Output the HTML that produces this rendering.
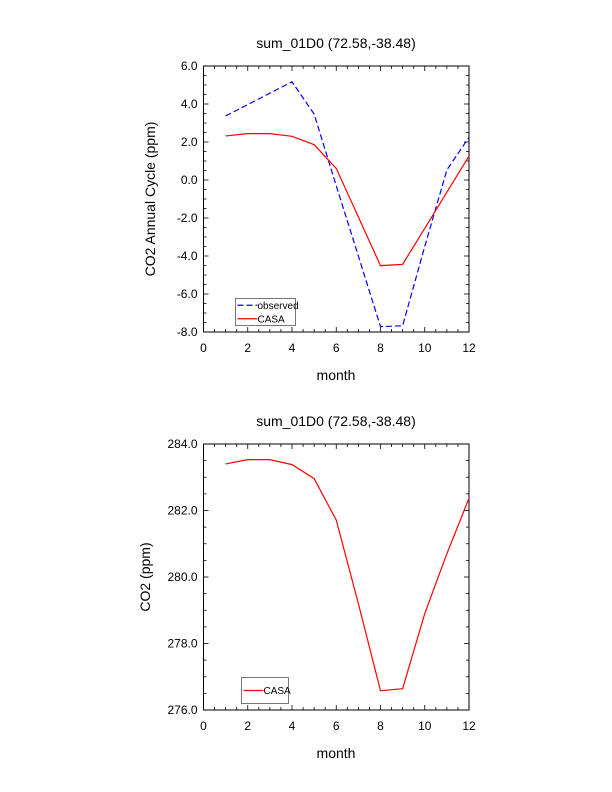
<!DOCTYPE html>
<html><head><meta charset="utf-8"><style>
body{margin:0;background:#fff;width:612px;height:792px;overflow:hidden}
svg{display:block;font-family:"Liberation Sans",Arial,sans-serif}
</style></head><body>
<svg id="s" width="612" height="792" xmlns="http://www.w3.org/2000/svg"></svg>
<script>
const months=[1,2,3,4,5,6,7,8,9,10,11,12];
const observed=[3.37,3.97,4.57,5.17,3.47,-0.3,-4.0,-7.72,-7.67,-3.5,0.53,2.25];
const casaCycle=[2.32,2.44,2.44,2.30,1.86,0.61,-1.95,-4.51,-4.44,-2.54,-0.64,1.26];
const casaCO2=[283.40,283.53,283.53,283.38,282.96,281.71,279.2,276.58,276.64,278.9,280.7,282.37];
const xTicks=[0,2,4,6,8,10,12];
const yTicksTop=[6.0,4.0,2.0,0.0,-2.0,-4.0,-6.0,-8.0];
const yTicksBot=[284.0,282.0,280.0,278.0,276.0];
const title="sum_01D0 (72.58,-38.48)";
const NS="http://www.w3.org/2000/svg";
const svg=document.getElementById('s');
function mk(tag,at,parent){const e=document.createElementNS(NS,tag);for(const k in at)e.setAttribute(k,at[k]);(parent||svg).appendChild(e);return e;}
function panel(o){
  const g=mk('g',{});
  
  
  const L=203.5,R=469,T=o.top,B=o.bot;
  const xs=v=>L+(v-0)/12*(R-L);
  const ys=v=>T+(o.ymax-v)/(o.ymax-o.ymin)*(B-T);
  const fr=mk('rect',{x:L,y:T,width:R-L,height:B-T,fill:'none',stroke:'#000','stroke-width':1},g);
  
  
  for(let v=0;v<=12.001;v+=0.5){const maj=Math.abs(v/2-Math.round(v/2))<1e-6;const l=maj?5:3;const x=xs(v);
    mk('line',{x1:x,x2:x,y1:B,y2:B-l,stroke:'#000','stroke-width':0.8},g);
    mk('line',{x1:x,x2:x,y1:T,y2:T+l,stroke:'#000','stroke-width':0.8},g);}
  for(let v=o.ymin;v<=o.ymax+0.001;v+=0.5){const maj=Math.abs(v/2-Math.round(v/2))<1e-6;const l=maj?5:3;const y=ys(v);
    mk('line',{x1:L,x2:L+l,y1:y,y2:y,stroke:'#000','stroke-width':0.8},g);
    mk('line',{x1:R,x2:R-l,y1:y,y2:y,stroke:'#000','stroke-width':0.8},g);}
  xTicks.forEach(v=>{const t=mk('text',{x:xs(v),y:B+20,'font-size':12,'text-anchor':'middle'},g);t.textContent=v;
    
    });
  o.yt.forEach(v=>{const t=mk('text',{x:L-6,y:ys(v)+4,'font-size':12,'text-anchor':'end'},g);t.textContent=v.toFixed(1);
    
    });
  const ti=mk('text',{x:336,y:T-18,'font-size':14,'text-anchor':'middle'},g);ti.textContent=title;
  
  
  const xl=mk('text',{x:336,y:B+48,'font-size':14,'text-anchor':'middle'},g);xl.textContent='month';
  
  
  const yc=(T+B)/2;
  const yl=mk('text',{x:o.ylx,y:yc,'font-size':14,'text-anchor':'middle',transform:`rotate(-90 ${o.ylx} ${yc})`},g);yl.textContent=o.ylabel;
  
  
  o.series.forEach(s=>{const p=mk('polyline',{points:months.map((m,i)=>xs(m)+','+ys(s.data[i])).join(' '),fill:'none',stroke:s.color,'stroke-width':1.2,'stroke-dasharray':s.dash||'none'},g);
    
    });
  const lg=mk('g',{},g);
  
  
  mk('rect',{x:o.lg.x,y:o.lg.y,width:o.lg.w,height:o.lg.h,fill:'#fff',stroke:'#555','stroke-width':0.8},lg);
  o.series.forEach((s,i)=>{const yy=o.lg.y+(o.lg.h/(o.series.length))*(i+0.5);
    mk('line',{x1:o.lg.x+2,x2:o.lg.x+22,y1:yy,y2:yy,stroke:s.color,'stroke-width':1.2,'stroke-dasharray':s.dash||'none'},lg);
    const t=mk('text',{x:o.lg.x+22,y:yy+3.5,'font-size':10},lg);t.textContent=s.label;
    
    });
}
panel({name:'annual-cycle-panel',top:66,bot:332,ymin:-8,ymax:6,yt:yTicksTop,ylabel:'CO2 Annual Cycle (ppm)',ylx:155,
  series:[{name:'observed-line',label:'observed',data:observed,color:'#0000ff',dash:'6 3'},{name:'casa-line',label:'CASA',data:casaCycle,color:'#ff0000'}],
  lg:{x:235.5,y:298.5,w:60,h:27}});
panel({name:'co2-panel',top:444,bot:710,ymin:276,ymax:284,yt:yTicksBot,ylabel:'CO2 (ppm)',ylx:150,
  series:[{name:'casa-co2-line',label:'CASA',data:casaCO2,color:'#ff0000'}],
  lg:{x:241.5,y:677.5,w:47,h:26}});
</script>
</body></html>
